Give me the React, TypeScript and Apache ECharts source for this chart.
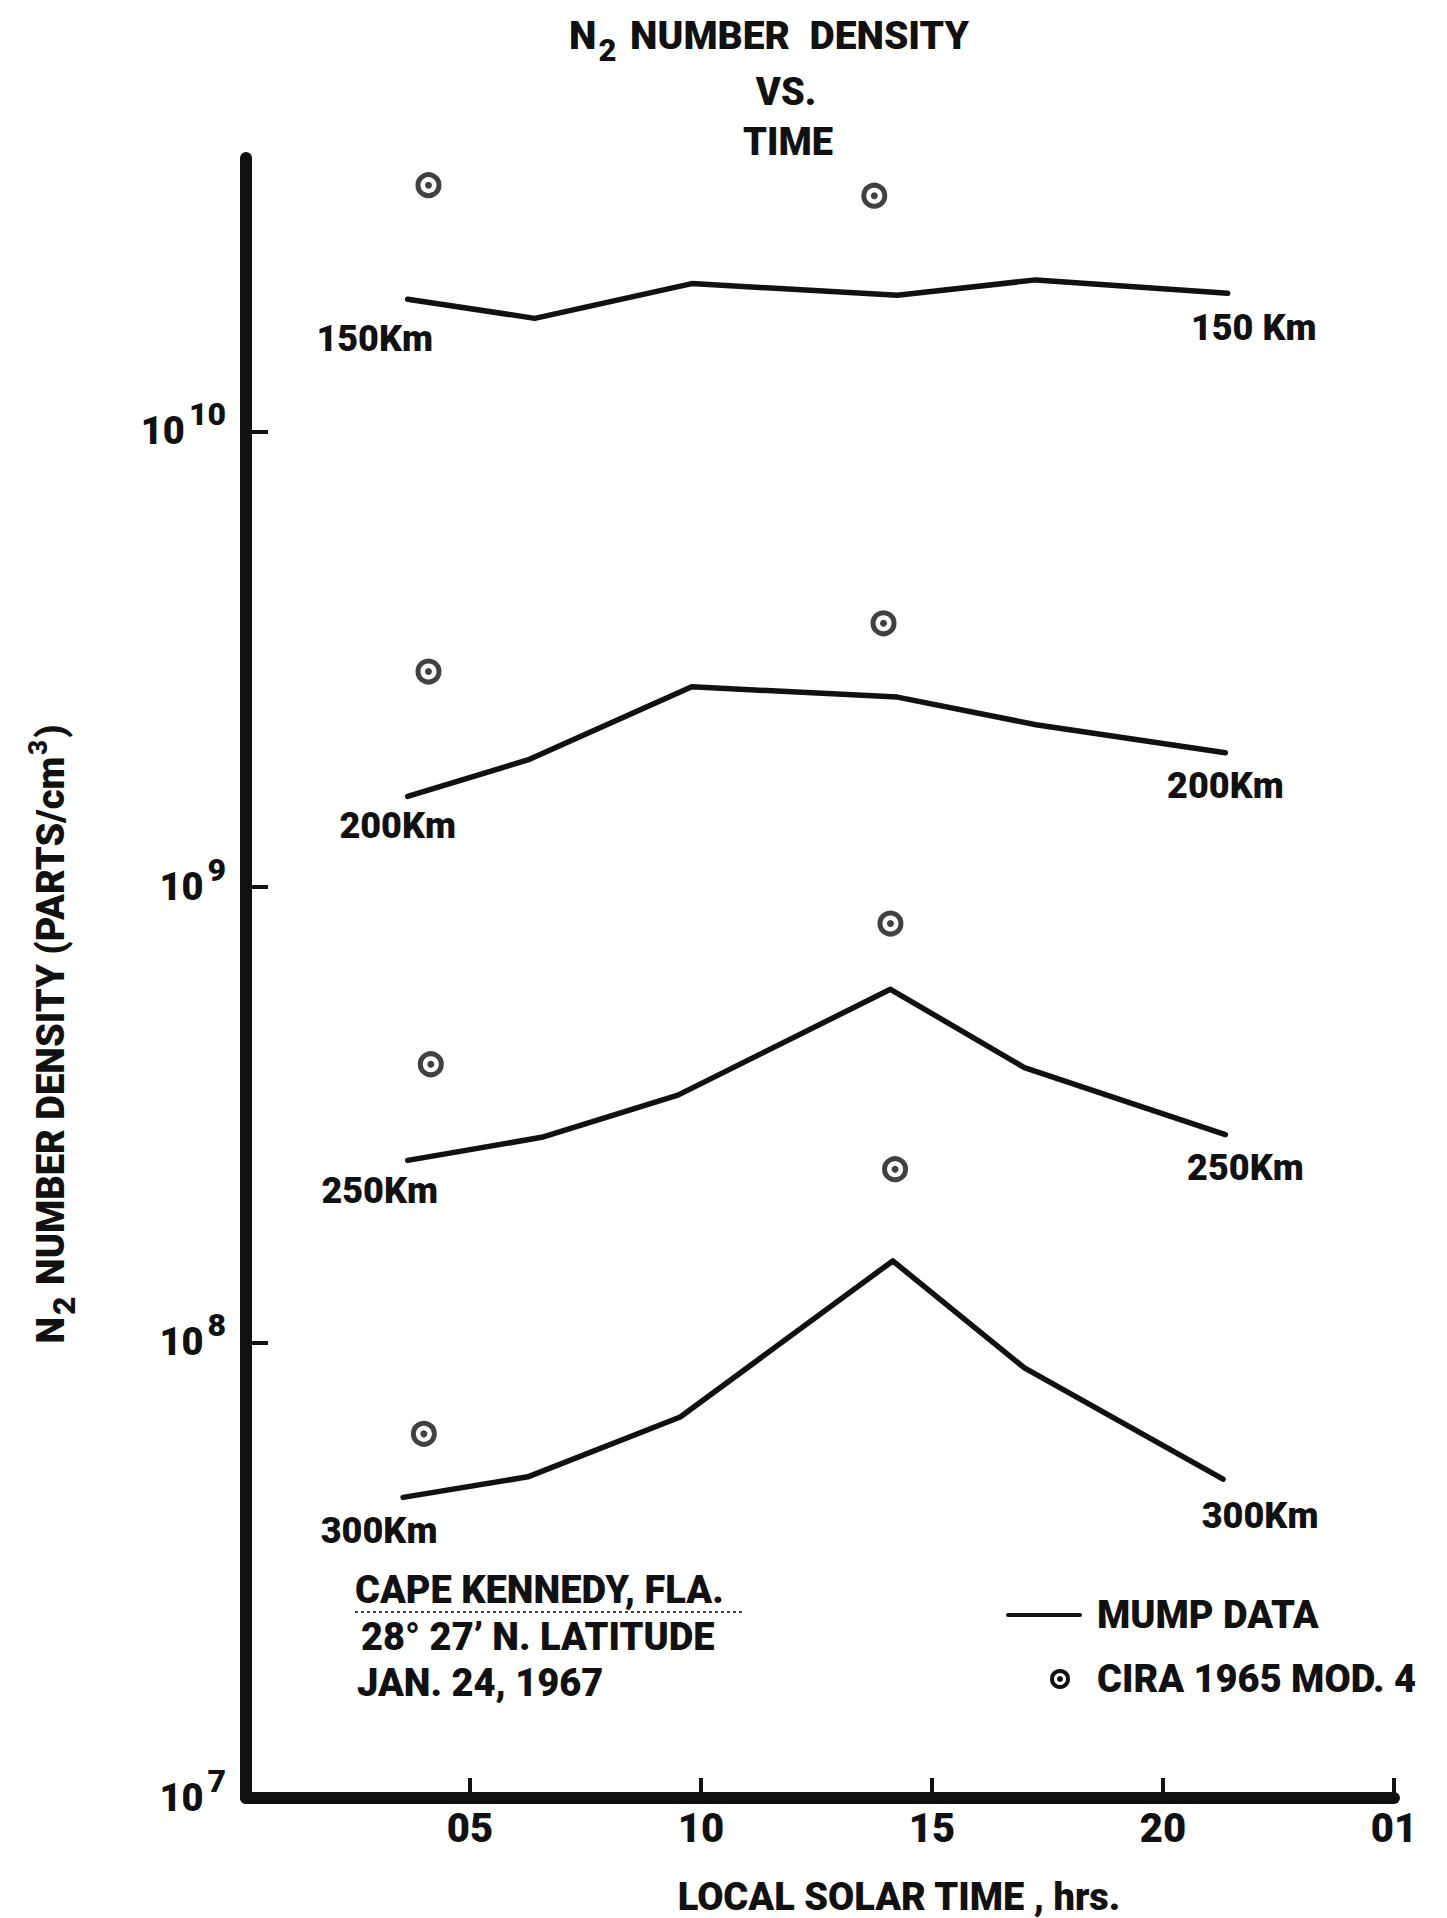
import React, { useEffect, useRef } from 'react';
import * as echarts from 'echarts';

// ---------- data ----------
const times150 = [3.65, 6.4, 9.8, 14.25, 17.25, 21.4];
const density150 = [1.95e10, 1.77e10, 2.11e10, 1.99e10, 2.15e10, 2.01e10];

const times200 = [3.65, 6.25, 9.8, 14.25, 17.25, 21.35];
const density200 = [1.58e9, 1.9e9, 2.75e9, 2.61e9, 2.27e9, 1.97e9];

const times250 = [3.65, 6.55, 9.5, 14.1, 17.0, 21.35];
const density250 = [2.51e8, 2.82e8, 3.49e8, 5.96e8, 4.01e8, 2.86e8];

const times300 = [3.55, 6.25, 9.55, 14.15, 17.0, 21.3];
const density300 = [4.57e7, 5.07e7, 6.86e7, 1.51e8, 8.79e7, 5.01e7];

const ciraTimes = [4.1, 13.75, 4.1, 13.95, 4.15, 14.1, 4.0, 14.2];
const ciraDensity = [3.47e10, 3.29e10, 2.97e9, 3.79e9, 4.08e8, 8.31e8, 6.3e7, 2.4e8];

const leftLabels = ['150Km', '200Km', '250Km', '300Km'];
const rightLabels = ['150 Km', '200Km', '250Km', '300Km'];

const xTickValues = [5, 10, 15, 20, 25];
const xTickLabels = ['05', '10', '15', '20', '01'];
const yTickValues = [1e7, 1e8, 1e9, 1e10];

// ---------- styles ----------
const INK = '#111';
const FONT = 'Roboto, "DejaVu Sans", sans-serif';
const WEIGHT = 900;
const leftOffsets = [[-33, 40], [-10, 30], [-28, 31], [-24, 34]];
const rightOffsets = [[26, 35], [0, 33], [20, 33], [37, 37]];

const seriesTimes = [times150, times200, times250, times300];
const seriesDensity = [density150, density200, density250, density300];

const labelBase = {
  color: INK,
  fontFamily: FONT,
  fontWeight: WEIGHT,
  fontSize: 36,
  position: 'inside' as const,
  textBorderWidth: 0,
};

function buildLine(i: number) {
  const t = seriesTimes[i];
  const d = seriesDensity[i];
  return {
    type: 'line',
    name: 'MUMP DATA',
    symbol: 'circle',
    symbolSize: 0,
    showSymbol: true,
    silent: true,
    lineStyle: { color: INK, width: 5.5, cap: 'round', join: 'round' },
    itemStyle: { color: INK },
    label: { show: false },
    z: 3,
    data: t.map((tv, k) => {
      const item: any = { value: [tv, d[k]] };
      if (k === 0) {
        item.label = { ...labelBase, show: true, formatter: leftLabels[i], offset: leftOffsets[i] };
      } else if (k === t.length - 1) {
        item.label = { ...labelBase, show: true, formatter: rightLabels[i], offset: rightOffsets[i] };
      }
      return item;
    }),
  };
}

export default function App() {
  const ref = useRef<HTMLDivElement>(null);

  useEffect(() => {
    document.body.style.margin = '0';
    if (!ref.current) return;
    const chart = echarts.init(ref.current, undefined, { renderer: 'svg' });

    const ciraData = ciraTimes.map((t, i) => [t, ciraDensity[i]]);

    const textStyleBold = (size: number) => ({
      fill: INK,
      fontFamily: FONT,
      fontWeight: WEIGHT,
      fontSize: size,
    });

    const option: any = {
      animation: false,
      backgroundColor: '#fff',
      grid: {
        left: 246,
        right: 53,
        top: 158,
        bottom: 120,
        containLabel: false,
        outerBoundsMode: 'none',
      },
      xAxis: {
        type: 'value',
        min: 0.15,
        max: 25,
        axisLine: { show: true, onZero: false, lineStyle: { color: INK, width: 12, cap: 'round' } },
        axisTick: {
          show: true,
          inside: true,
          length: 20,
          customValues: xTickValues,
          lineStyle: { color: INK, width: 4 },
        },
        axisLabel: {
          customValues: xTickValues,
          formatter: (v: number) => {
            const idx = xTickValues.indexOf(Math.round(v));
            return idx >= 0 ? xTickLabels[idx] : '';
          },
          margin: 10,
          color: INK,
          fontFamily: FONT,
          fontWeight: WEIGHT,
          fontSize: 40,
        },
        splitLine: { show: false },
      },
      yAxis: {
        type: 'log',
        logBase: 10,
        min: 1e7,
        max: Math.pow(10, 10.6),
        axisLine: { show: true, lineStyle: { color: INK, width: 12, cap: 'round' } },
        axisTick: {
          show: true,
          inside: true,
          length: 22,
          customValues: yTickValues,
          lineStyle: { color: INK, width: 4 },
        },
        axisLabel: {
          customValues: yTickValues,
          margin: 20,
          formatter: (v: number) => `{b|10}{s|${Math.round(Math.log10(v))}}`,
          rich: {
            b: { color: INK, fontFamily: FONT, fontWeight: WEIGHT, fontSize: 38, lineHeight: 44, verticalAlign: 'middle' },
            s: {
              color: INK,
              fontFamily: FONT,
              fontWeight: WEIGHT,
              fontSize: 32,
              lineHeight: 36,
              padding: [0, 0, 34, 4],
              verticalAlign: 'middle',
            },
          },
        },
        splitLine: { show: false },
        minorTick: { show: false },
      },
      series: [
        buildLine(0),
        buildLine(1),
        buildLine(2),
        buildLine(3),
        {
          type: 'scatter',
          name: 'CIRA 1965 MOD. 4',
          symbol: 'circle',
          symbolSize: 21,
          silent: true,
          itemStyle: { color: '#fff', borderColor: INK, borderWidth: 5 },
          data: ciraData,
          z: 4,
        },
        {
          type: 'scatter',
          name: 'CIRA 1965 MOD. 4',
          symbol: 'circle',
          symbolSize: 7,
          silent: true,
          itemStyle: { color: INK },
          data: ciraData,
          z: 5,
        },
      ],
      graphic: [
        // Title
        {
          type: 'text',
          x: 769,
          y: 36,
          style: {
            text: '{n|N}{sub|2}{n| NUMBER  DENSITY}',
            textAlign: 'center',
            textVerticalAlign: 'middle',
            verticalAlign: 'middle',
            align: 'center',
            rich: {
              n: { ...textStyleBold(39), lineHeight: 44, verticalAlign: 'middle' },
              sub: { ...textStyleBold(31), lineHeight: 34, padding: [28, 4, 0, 2], verticalAlign: 'middle' },
            },
          },
        },
        {
          type: 'text',
          x: 786,
          y: 92,
          style: { text: 'VS.', ...textStyleBold(38), textAlign: 'center', align: 'center', verticalAlign: 'middle', textVerticalAlign: 'middle' },
        },
        {
          type: 'text',
          x: 788,
          y: 142,
          style: { text: 'TIME', ...textStyleBold(38), textAlign: 'center', align: 'center', verticalAlign: 'middle', textVerticalAlign: 'middle' },
        },
        // Y axis name
        {
          type: 'text',
          x: 51,
          y: 1034,
          rotation: Math.PI / 2,
          style: {
            text: '{n|N}{sub|2}{n| NUMBER DENSITY (PARTS/cm}{sup|3}{n|)}',
            textAlign: 'center',
            align: 'center',
            verticalAlign: 'middle',
            textVerticalAlign: 'middle',
            rich: {
              n: { ...textStyleBold(38), lineHeight: 44, verticalAlign: 'middle' },
              sub: { ...textStyleBold(32), lineHeight: 36, padding: [26, 2, 0, 2], verticalAlign: 'middle' },
              sup: { ...textStyleBold(26), lineHeight: 30, padding: [0, 2, 26, 2], verticalAlign: 'middle' },
            },
          },
        },
        // X axis name
        {
          type: 'text',
          x: 899,
          y: 1897,
          style: {
            text: 'LOCAL SOLAR TIME , hrs.',
            ...textStyleBold(38),
            textAlign: 'center',
            align: 'center',
            verticalAlign: 'middle',
            textVerticalAlign: 'middle',
          },
        },
        // Location annotation
        {
          type: 'text',
          x: 355,
          y: 1590,
          style: { text: 'CAPE KENNEDY, FLA.', ...textStyleBold(38), align: 'left', verticalAlign: 'middle', textVerticalAlign: 'middle' },
        },
        {
          type: 'line',
          shape: { x1: 355, y1: 1612, x2: 742, y2: 1612 },
          style: { stroke: '#444', lineWidth: 2, lineDash: [3, 3] },
        },
        {
          type: 'text',
          x: 361,
          y: 1637,
          style: { text: '28° 27’ N. LATITUDE', ...textStyleBold(38), align: 'left', verticalAlign: 'middle', textVerticalAlign: 'middle' },
        },
        {
          type: 'text',
          x: 357,
          y: 1683,
          style: { text: 'JAN. 24, 1967', ...textStyleBold(38), align: 'left', verticalAlign: 'middle', textVerticalAlign: 'middle' },
        },
        // Legend
        {
          type: 'line',
          shape: { x1: 1008, y1: 1615, x2: 1080, y2: 1615 },
          style: { stroke: INK, lineWidth: 4, lineCap: 'round' },
        },
        {
          type: 'text',
          x: 1097,
          y: 1615,
          style: { text: 'MUMP DATA', ...textStyleBold(38), align: 'left', verticalAlign: 'middle', textVerticalAlign: 'middle' },
        },
        {
          type: 'circle',
          shape: { cx: 1060, cy: 1679, r: 8 },
          style: { fill: '#fff', stroke: INK, lineWidth: 4 },
        },
        {
          type: 'circle',
          shape: { cx: 1060, cy: 1679, r: 3 },
          style: { fill: INK },
        },
        {
          type: 'text',
          x: 1097,
          y: 1679,
          style: { text: 'CIRA 1965 MOD. 4', ...textStyleBold(38), align: 'left', verticalAlign: 'middle', textVerticalAlign: 'middle' },
        },
      ],
    };

    chart.setOption(option);
    return () => {
      chart.dispose();
    };
  }, []);

  return <div ref={ref} style={{ width: 1447, height: 1918 }} />;
}
